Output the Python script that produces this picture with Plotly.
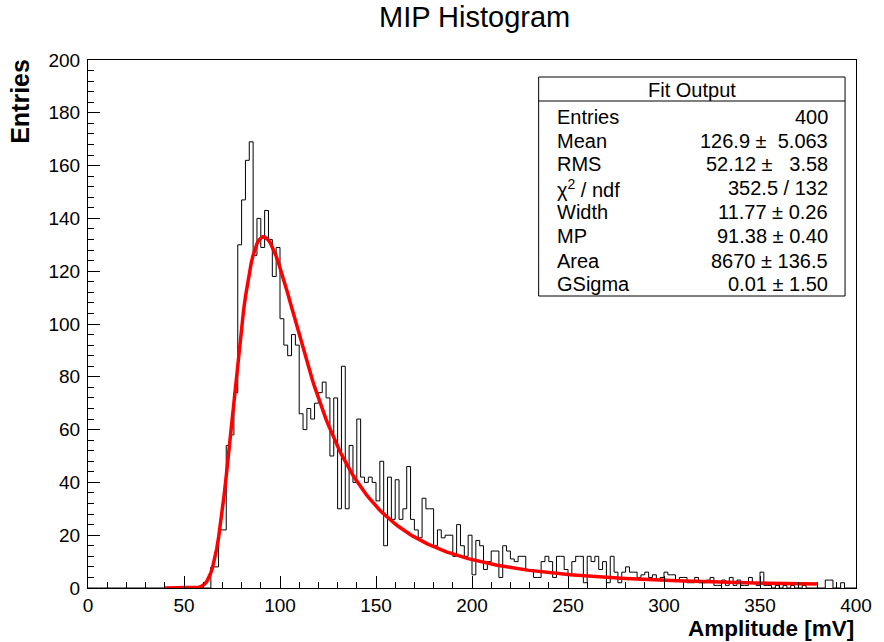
import numpy as np
import plotly.graph_objects as go

# ---------------- data ----------------
bin_width = 2
bin_lo = list(range(0, 400, 2))  # left edges of the 200 bins
counts = (
    [0] * 32 +  # 0 .. 62
    [8, 8, 22, 22, 54, 58, 74, 130, 147, 162, 169, 126, 140, 129, 143, 132, 118, 129] +  # 64 .. 98
    [102, 92, 88, 96, 92, 66, 60, 68, 64, 70] +      # 100 .. 118
    [74, 78, 72, 50, 72, 30, 84, 30, 54, 40] +       # 120 .. 138
    [64, 42, 40, 42, 40, 33, 48, 16, 42, 26] +       # 140 .. 158
    [41, 26, 30, 46, 26, 22, 19, 34, 30, 30] +       # 160 .. 178
    [16, 22, 19, 20, 20, 12, 24, 16, 12, 20] +       # 180 .. 198
    [5, 18, 16, 7, 10, 14, 14, 4, 16, 14] +          # 200 .. 218
    [11, 10, 12, 12, 7, 7, 4, 4, 10, 12] +           # 220 .. 238
    [10, 4, 12, 12, 7, 5, 10, 12, 12, 2] +           # 240 .. 258
    [12, 10, 12, 7, 10, 2, 12, 6, 2, 6] +            # 260 .. 278
    [8, 6, 6, 4, 5, 6, 4, 5, 3, 4] +                 # 280 .. 298
    [6, 5, 5, 3, 4, 4, 2, 2, 4, 2] +                 # 300 .. 318
    [2, 3, 4, 1, 1, 3, 1, 4, 1, 3] +                 # 320 .. 338
    [1, 1, 4, 2, 1, 6, 1, 1, 0, 1] +                 # 340 .. 358
    [0, 1, 0, 1, 0, 0, 1, 0, 0, 0] +                 # 360 .. 378
    [0, 0, 3, 3, 0, 0, 2, 0, 0, 0]                   # 380 .. 398
)
assert len(counts) == len(bin_lo)

# fit parameters (Landau (x) Gauss, "langaus")
fit_width = 11.77
fit_mp = 91.38
fit_area = 8670.0
fit_gsigma = 0.01
fit_range = (40, 380)

stats_labels = ["Entries", "Mean", "RMS", "χ<sup>2</sup> / ndf", "Width", "MP", "Area", "GSigma"]
stats_values = ["400", "126.9 \u00b1 \u00a05.063", "52.12 \u00b1 \u00a0 3.58", "352.5 / 132",
                "11.77 \u00b1 0.26", "91.38 \u00b1 0.40", "8670 \u00b1 136.5", "0.01 \u00b1 1.50"]

x_ticks = [0, 50, 100, 150, 200, 250, 300, 350, 400]
y_ticks = list(range(0, 201, 20))


# ---------------- fit curve ----------------
def landau_pdf(lam):
    c = max(np.exp(-(1.0 + lam)), 0.02)
    yy = np.linspace(0.0, 80.0, 80001)
    s = c + 1j * yy
    f = np.exp(s * np.log(s) + lam * s)
    return float(np.trapezoid(f.real, yy) / np.pi)


mpshift = -0.22278298
mpc = fit_mp - mpshift * fit_width
xf = np.arange(fit_range[0], fit_range[1] + 0.5, 1.0)
yf = np.array([fit_area * landau_pdf((x - mpc) / fit_width) / fit_width for x in xf])

# ---------------- figure ----------------
edges = bin_lo + [bin_lo[-1] + bin_width]
step_y = counts + [counts[-1]]

fig = go.Figure()
fig.add_trace(go.Scatter(x=edges, y=step_y, mode="lines", line=dict(color="black", width=1, shape="hv"),
                         hoverinfo="skip"))
fig.add_trace(go.Scatter(x=xf, y=yf, mode="lines", line=dict(color="#ff0000", width=3.5),
                         hoverinfo="skip"))

FONT = "Liberation Sans, Arial, Helvetica, sans-serif"
L, R, T, B = 88, 24, 60, 54
W, H = 884, 642
pw, ph = W - L - R, H - T - B


def px(x):
    return (x - L) / pw


def py(y):
    return (H - B - y) / ph


axis_common = dict(showline=True, linecolor="black", linewidth=1, mirror=True, showgrid=False,
                   zeroline=False, ticks="inside", ticklen=12, tickcolor="black", tickwidth=1,
                   tickfont=dict(family=FONT, size=19, color="black"))

fig.update_layout(
    width=W, height=H, margin=dict(l=L, r=R, t=T, b=B),
    plot_bgcolor="white", paper_bgcolor="white", showlegend=False,
    xaxis=dict(range=[0, 400], tickvals=x_ticks, ticklabelstandoff=0,
               minor=dict(dtick=10, ticks="inside", ticklen=6, tickcolor="black"), **axis_common),
    yaxis=dict(range=[0, 200], tickvals=y_ticks, ticklabelstandoff=3,
               minor=dict(dtick=4, ticks="inside", ticklen=6, tickcolor="black"), **axis_common),
)

ann = []
ann.append(dict(text="MIP Histogram", x=px(477), y=py(17), xref="paper", yref="paper",
                xanchor="center", yanchor="middle", showarrow=False,
                font=dict(family=FONT, size=29, color="black")))
ann.append(dict(text="<b>Entries</b>", x=px(19), y=py(57), xref="paper", yref="paper",
                xanchor="center", yanchor="top", textangle=-90, showarrow=False,
                font=dict(family=FONT, size=25, color="black")))
ann.append(dict(text="<b>Amplitude [mV]</b>", x=1.0, y=py(628), xref="paper", yref="paper",
                xanchor="right", yanchor="middle", showarrow=False,
                font=dict(family=FONT, size=22.5, color="black")))

# stats box
bx0, bx1, by0, by1, bsep = 541, 849, 77, 296, 101
shapes = [
    dict(type="rect", xref="paper", yref="paper", x0=px(bx0), x1=px(bx1), y0=py(by1), y1=py(by0),
         line=dict(color="black", width=1), fillcolor="white", layer="above"),
    dict(type="line", xref="paper", yref="paper", x0=px(bx0), x1=px(bx1), y0=py(bsep), y1=py(bsep),
         line=dict(color="black", width=1), layer="above"),
]
ann.append(dict(text="Fit Output", x=px((bx0 + bx1) / 2), y=py(90), xref="paper", yref="paper",
                xanchor="center", yanchor="middle", showarrow=False,
                font=dict(family=FONT, size=20, color="black")))
row_y = [117, 141, 164, 188, 212, 236, 261, 284]
for lab, val, ry in zip(stats_labels, stats_values, row_y):
    ann.append(dict(text=lab, x=px(557), y=py(ry), xref="paper", yref="paper", xanchor="left",
                    yanchor="middle", showarrow=False, font=dict(family=FONT, size=20, color="black")))
    ann.append(dict(text=val, x=px(834), y=py(ry), xref="paper", yref="paper", xanchor="right",
                    yanchor="middle", showarrow=False, font=dict(family=FONT, size=20, color="black")))

fig.update_layout(annotations=ann, shapes=shapes)
fig.write_html("out.html")
